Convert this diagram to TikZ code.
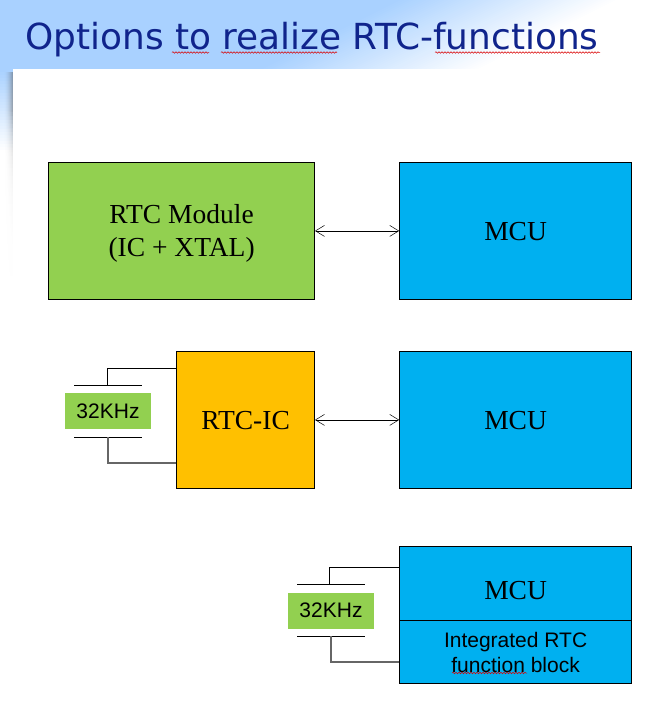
\documentclass[tikz,border=0pt]{standalone}
\usepackage{fontspec}
\setmainfont{Liberation Serif}
\setsansfont{Liberation Sans}
\newfontfamily\titlefont{DejaVu Sans}
\usetikzlibrary{arrows.meta,decorations.pathmorphing}
\definecolor{skyband}{HTML}{A9D1FF}
\definecolor{titleblue}{HTML}{10248C}
\definecolor{modgreen}{HTML}{92D050}
\definecolor{mcublue}{HTML}{00B0F0}
\definecolor{icorange}{HTML}{FFC000}
\tikzset{
  block/.style={draw=black,line width=0.8pt,inner sep=0pt,anchor=north west},
  blocktext/.style={font=\fontsize{27.5}{33}\selectfont,align=center,inner sep=0pt},
  xtal/.style={fill=modgreen,inner sep=0pt,minimum width=86pt,minimum height=36pt,font=\sffamily\fontsize{21}{24}\selectfont},
  plate/.style={line width=0.8pt},
  wire/.style={line width=0.8pt},
  softwire/.style={line width=1.1pt,draw=black!60},
  link/.style={line width=0.7pt,{Straight Barb[length=9pt,width=11pt,line width=0.5pt]}-{Straight Barb[length=9pt,width=11pt,line width=0.5pt]}},
  squiggle/.style={draw=red!85!black,line width=0.5pt,decorate,decoration={snake,amplitude=0.8pt,segment length=3pt}}
}
\begin{document}
\begin{tikzpicture}[x=1pt,y=-1pt]
\useasboundingbox (0,0) rectangle (663,710);
% background band: diagonal fade towards the upper right
\fill[skyband] (0,0) rectangle (663,69);
\begin{scope}
\clip (0,0) rectangle (663,69);
\foreach \t in {0,...,49} {
  \pgfmathsetmacro{\pa}{400+4.4*\t}
  \pgfmathsetmacro{\pc}{2*\t+2}
  \colorlet{stripc}{white!\pc!skyband}
  \fill[stripc] (\pa,0) -- (900,0) -- (900,69) -- (\pa-138,69) -- cycle;
}
\end{scope}
% left fade under the band
\foreach \s in {0,...,27} {
  \pgfmathsetmacro{\ya}{69+3*\s}
  \pgfmathsetmacro{\pc}{100*\s/27}
  \colorlet{stripc}{white!\pc!skyband}
  \fill[stripc] (0,\ya) rectangle (13,\ya+3.2);
}
% soft shadow of the white panel
\foreach \s in {0,...,50} {
  \pgfmathsetmacro{\ya}{72+4*\s}
  \pgfmathsetmacro{\vf}{\s<9 ? 0.42 : 0.42*exp(-(\s-9)/9)}
  \foreach \c in {0,...,8} {
    \pgfmathsetmacro{\xa}{4+\c}
    \pgfmathsetmacro{\op}{\vf*((\c+1)/9)^2}
    \fill[black!70,opacity=\op] (\xa,\ya) rectangle (\xa+1,\ya+4);
  }
}
\fill[white] (13,69) rectangle (663,710);
% title
\node[anchor=base west,inner sep=0pt,text=titleblue,font=\titlefont\fontsize{35.9}{42}\selectfont] (title) at (25,49) {Options to realize RTC-functions};
\draw[squiggle] (172,52.5) -- (209,52.5);
\draw[squiggle] (221,52.5) -- (337,52.5);
\draw[squiggle] (435,52.5) -- (600,52.5);
% row 1
\node[block,fill=modgreen,minimum width=266pt,minimum height=136.6pt,label={[blocktext,yshift=-2pt]center:RTC Module\\(IC + XTAL)}] (module) at (48.2,162.2) {};
\node[block,fill=mcublue,minimum width=232pt,minimum height=136.6pt,label={[blocktext,yshift=-1pt]center:MCU}] (mcua) at (399.2,162.2) {};
\draw[link] (module.east) -- (mcua.west);
% row 2
\node[block,fill=icorange,minimum width=138pt,minimum height=136.6pt,label={[blocktext,yshift=-1pt]center:RTC-IC}] (rtcic) at (176.2,351.2) {};
\node[block,fill=mcublue,minimum width=232pt,minimum height=136.6pt,label={[blocktext,yshift=-1pt]center:MCU}] (mcub) at (399.2,351.2) {};
\draw[link] (rtcic.east) -- (mcub.west);
\node[xtal] (xa) at (108,411) {32KHz};
\coordinate (pa1) at (74,385); \coordinate (pa2) at (142,385);
\coordinate (pa3) at (74,437); \coordinate (pa4) at (142,437);
\draw[plate] (pa1) -- (pa2);
\draw[plate] (pa3) -- (pa4);
\coordinate (ta) at (107,385); \coordinate (ba) at (108,437);
\draw[wire] (ta) |- (rtcic.west |- 0,368.5);
\draw[softwire] (ba) |- (rtcic.west |- 0,463);
% row 3
\node[block,fill=mcublue,minimum width=232pt,minimum height=74pt,label={[blocktext,yshift=-7pt]center:MCU}] (mcuc) at (399.2,546.4) {};
\node[block,fill=mcublue,minimum width=232pt,minimum height=62.6pt,align=center,font=\sffamily\fontsize{21}{25}\selectfont] (rtcblock) at (399.2,620.4) {Integrated RTC\\function block};
\draw[line width=1.3pt] (rtcblock.south west) -- (rtcblock.south east);
\node[xtal] (xb) at (331,610.5) {32KHz};
\coordinate (pb1) at (297,584); \coordinate (pb2) at (365,584);
\coordinate (pb3) at (297,636); \coordinate (pb4) at (365,636);
\draw[plate] (pb1) -- (pb2);
\draw[plate] (pb3) -- (pb4);
\coordinate (tb) at (329.5,584); \coordinate (bb) at (331,636);
\draw[wire] (tb) |- (mcuc.west |- 0,567.5);
\draw[softwire] (bb) |- (rtcblock.west |- 0,662);
\draw[squiggle] (452,673) -- (527,673);
\end{tikzpicture}
\end{document}
